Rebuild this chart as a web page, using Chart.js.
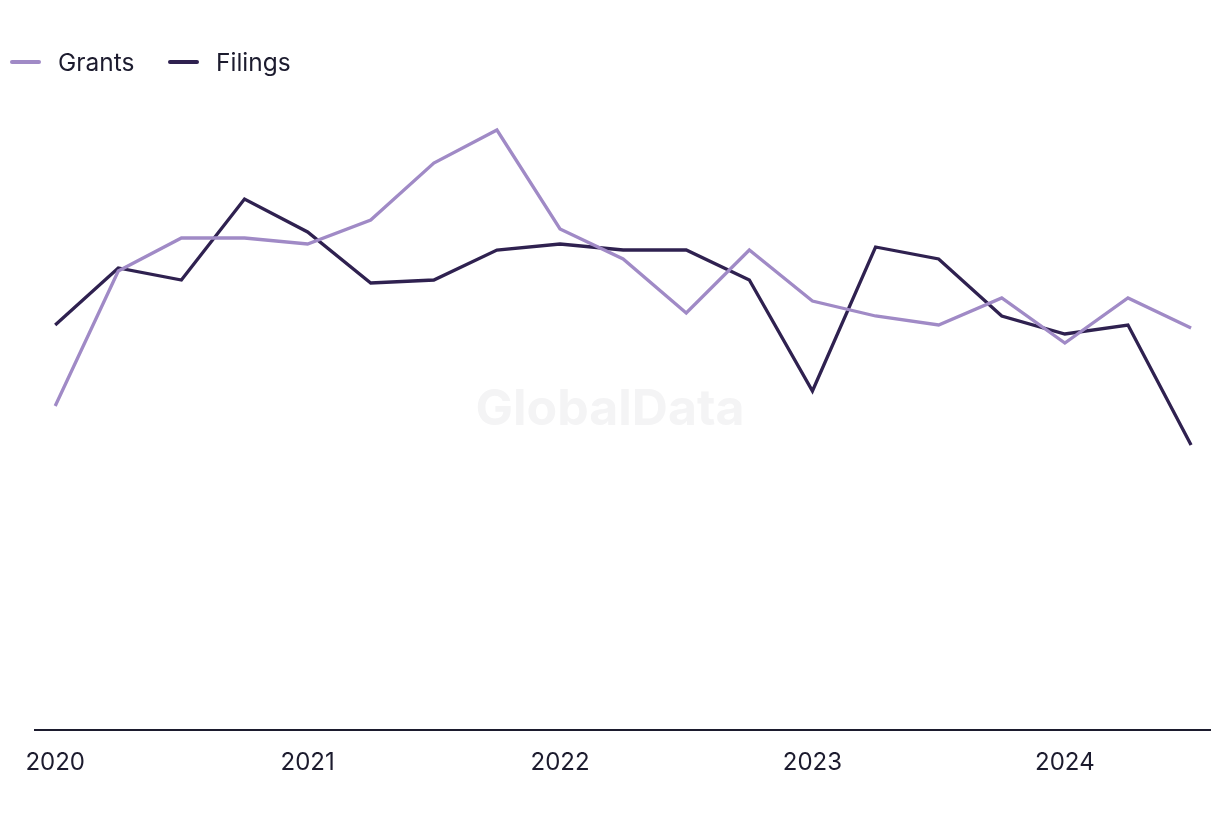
<!DOCTYPE html>
<html>
<head>
<meta charset="utf-8">
<script src="https://cdn.jsdelivr.net/npm/chart.js@4"></script>
<style>
    html, body { margin: 0; padding: 0; background: #fff; }
    #wrap { position: relative; width: 1220px; height: 820px; }
    #legenda { position: absolute; left: 0; top: 0; font-family: Inter, 'Open Sans', sans-serif; font-size: 24.5px; color: #1c1b2e; }
    .item { position: absolute; top: 47px; height: 30px; line-height: 30px; white-space: nowrap; }
    .linha { position: absolute; top: 13px; width: 31px; height: 4px; border-radius: 2px; }
</style>
</head>
<body>
<div id="wrap">
    <canvas id="grafico" width="1220" height="820"></canvas>
    <div id="legenda">
        <div class="item" style="left:10px"><span class="linha" style="background:#a08ac6"></span><span style="margin-left:48px">Grants</span></div>
        <div class="item" style="left:168px"><span class="linha" style="background:#2f2150"></span><span style="margin-left:48px">Filings</span></div>
    </div>
</div>
<script>
// Trimestres (2020 T1 .. 2024 T3)
const trimestres = ['2020 Q1', '2020 Q2', '2020 Q3', '2020 Q4',
    '2021 Q1', '2021 Q2', '2021 Q3', '2021 Q4',
    '2022 Q1', '2022 Q2', '2022 Q3', '2022 Q4',
    '2023 Q1', '2023 Q2', '2023 Q3', '2023 Q4',
    '2024 Q1', '2024 Q2', '2024 Q3'];

// Rótulos do eixo x (um por ano, no primeiro trimestre)
const anos = ['2020', '2021', '2022', '2023', '2024'];

// Séries
const grants = [108, 153, 164, 164, 162, 170, 189, 200, 167, 157, 139, 160, 143, 138, 135, 144, 129, 144, 134];
const filings = [135, 154, 150, 177, 166, 149, 150, 160, 162, 160, 160, 150, 113, 161, 157, 138, 132, 135, 95];

const corTexto = '#1c1b2e';

// Marca d'água
const marcaDagua = {
    id: 'marcaDagua',
    beforeDatasetsDraw(chart) {
        const ctx = chart.ctx;
        ctx.save();
        ctx.font = 'bold 50px Inter, "Open Sans", sans-serif';
        ctx.fillStyle = '#f4f4f5';
        ctx.textAlign = 'center';
        ctx.textBaseline = 'middle';
        ctx.fillText('GlobalData', 610, 410);
        ctx.restore();
    }
};

const pontos = arr => arr.map((v, i) => ({ x: i, y: v }));

new Chart(document.getElementById('grafico'), {
    type: 'line',
    data: {
        datasets: [
            {
                label: 'Grants',
                data: pontos(grants),
                borderColor: '#a08ac6',
                borderWidth: 3.3,
                pointRadius: 0,
                tension: 0
            },
            {
                label: 'Filings',
                data: pontos(filings),
                borderColor: '#2f2150',
                borderWidth: 3.3,
                pointRadius: 0,
                tension: 0
            }
        ]
    },
    options: {
        responsive: false,
        animation: false,
        layout: { padding: { top: 100, right: 10, left: 0, bottom: 0 } },
        plugins: {
            legend: { display: false },
            tooltip: { enabled: false }
        },
        scales: {
            x: {
                type: 'linear',
                min: -0.32,
                max: 18.3,
                afterBuildTicks: scale => {
                    scale.ticks = anos.map((a, i) => ({ value: i * 4 }));
                },
                afterFit: scale => { scale.height = 90; },
                ticks: {
                    color: corTexto,
                    font: { family: 'Inter, "Open Sans", sans-serif', size: 24 },
                    padding: 18,
                    maxRotation: 0,
                    autoSkip: false,
                    callback: v => anos[v / 4]
                },
                grid: { display: false, drawTicks: false },
                border: { display: true, color: corTexto, width: 2 }
            },
            y: {
                min: 0,
                max: 210,
                afterFit: scale => { scale.width = 35; },
                ticks: { display: false },
                grid: { display: false },
                border: { display: false }
            }
        }
    },
    plugins: [marcaDagua]
});
</script>
</body>
</html>
